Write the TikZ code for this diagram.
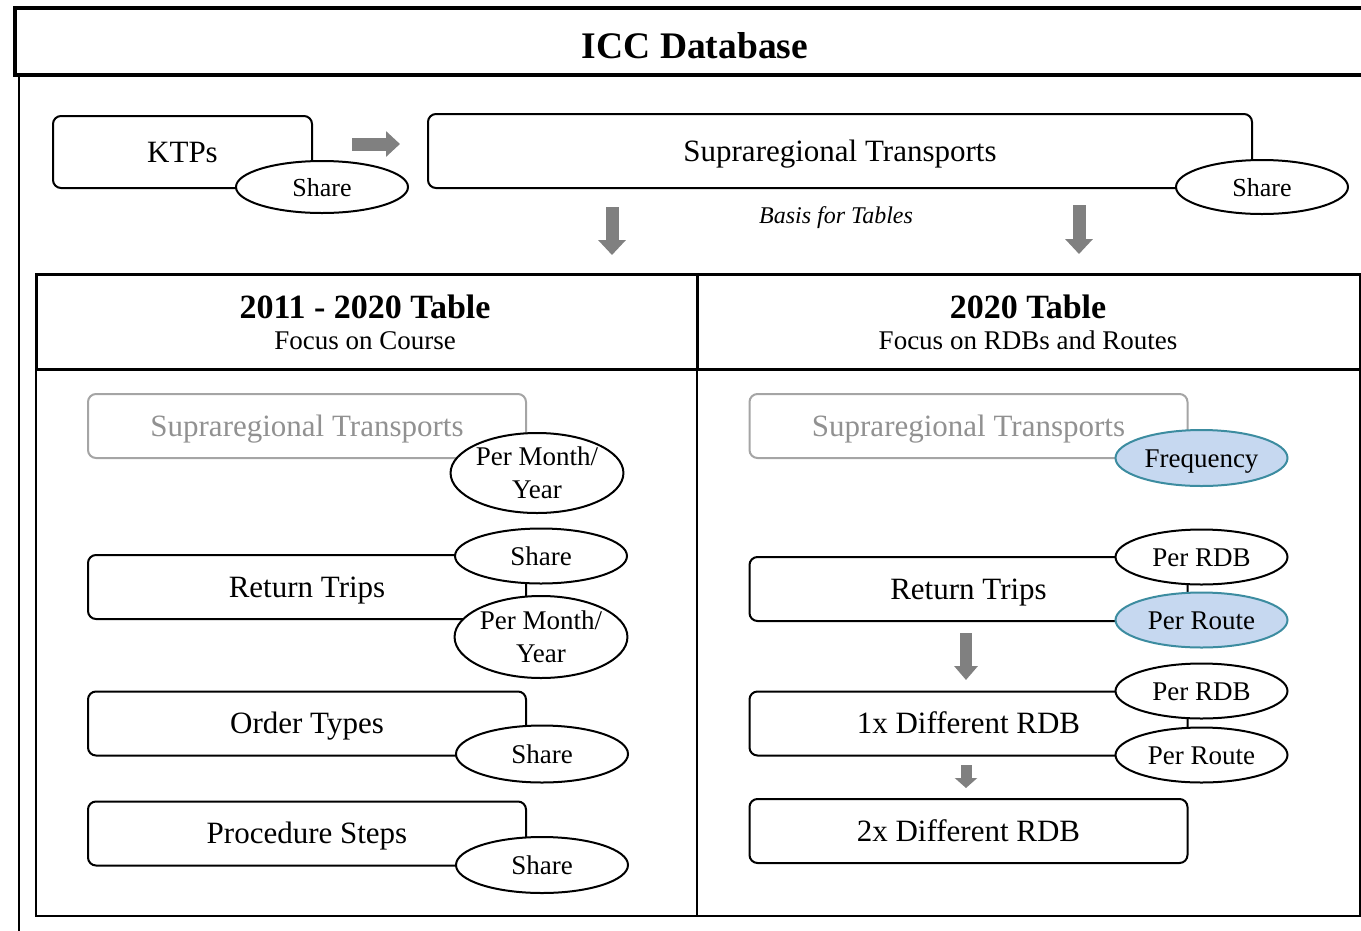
\documentclass[tikz,border=0pt]{standalone}
\usepackage{fontspec}
\setmainfont{Liberation Serif}
\usetikzlibrary{shapes.geometric,arrows.meta}
\definecolor{arrgray}{RGB}{128,128,128}
\definecolor{boxgray}{RGB}{165,165,165}
\definecolor{txtgray}{RGB}{145,145,145}
\definecolor{hlfill}{RGB}{198,216,240}
\definecolor{hldraw}{RGB}{60,140,160}
\begin{document}
\begin{tikzpicture}[x=1pt,y=-1pt,
  capc/.style={text height=#1, text depth=0pt, inner sep=0pt},
  thinframe/.style={draw, line width=1.5pt, inner sep=0pt},
  bigbox/.style={draw, line width=4pt, inner sep=0pt},
  hdr/.style={draw, line width=3pt, inner sep=0pt},
  ibox/.style={draw, line width=2pt, rounded corners=8pt, inner sep=0pt,
    minimum width=438pt, minimum height=64pt,
    font=\fontsize{31}{34}\selectfont, text height=20.5pt, text depth=0pt},
  gbox/.style={ibox, draw=boxgray, text=txtgray},
  ell/.style={ellipse, draw, line width=2pt, fill=white, inner sep=0pt,
    minimum width=172pt, minimum height=55pt,
    font=\fontsize{27}{33}\selectfont, text height=18pt, text depth=0pt},
  ellb/.style={ellipse, draw, line width=2pt, fill=white, inner sep=0pt,
    minimum width=172pt, minimum height=82pt,
    font=\fontsize{27}{33}\selectfont, align=center},
  hl/.style={fill=hlfill, draw=hldraw},
  garrow/.style={draw=arrgray, line width=13pt, -{Triangle[length=15pt,width=27pt]}},
]
\useasboundingbox (0,0) rectangle (1361,930);

% outer frame and title
\node[thinframe, minimum width=1357pt, minimum height=860pt, anchor=north west] (outer) at (18,75) {};
\node[bigbox, fill=white, minimum width=1360pt, minimum height=67pt] (titlebox) at (695,41.5) {};
\node[capc=24.8pt, font={\fontsize{37.5}{40}\selectfont\bfseries}] (title) at (695,46.5) {ICC Database};

% top row
\node[ibox, minimum width=259pt, minimum height=72pt] (ktp) at (182.5,152) {KTPs};
\node[ibox, minimum width=824pt, minimum height=74pt] (st) at (840,151) {Supraregional Transports};
\node[ell, minimum height=52pt, font=\fontsize{26}{30}\selectfont] (ktpshare) at (322,187) {Share};
\node[ell, minimum height=54pt, font=\fontsize{26}{30}\selectfont] (stshare) at (1262,187) {Share};
\node[capc=16pt, font={\fontsize{24}{28}\selectfont\itshape}] (basis) at (836,215) {Basis for Tables};

\coordinate (a1s) at (352,144); \coordinate (a1e) at (400,144);
\draw[garrow, -{Triangle[length=14pt,width=25pt]}] (a1s) -- (a1e);
\coordinate (a2s) at (612,207); \coordinate (a2e) at (612,255);
\draw[garrow] (a2s) -- (a2e);
\coordinate (a3s) at (1079,205); \coordinate (a3e) at (1079,254);
\draw[garrow] (a3s) -- (a3e);

% panels
\node[thinframe, minimum width=661pt, minimum height=546pt, anchor=north west] (lbody) at (35,369) {};
\node[thinframe, minimum width=663pt, minimum height=546pt, anchor=north west] (rbody) at (696,369) {};
\node[hdr, fill=white, minimum width=661pt, minimum height=95pt, anchor=north west] (lhdr) at (35,273) {};
\node[hdr, fill=white, minimum width=663pt, minimum height=95pt, anchor=north west] (rhdr) at (696,273) {};
\node[capc=22.5pt, font={\fontsize{34}{36}\selectfont\bfseries}] (lh1) at (365,307) {2011 - 2020 Table};
\node[capc=17.9pt, font=\fontsize{27}{30}\selectfont] (lh2) at (365,341) {Focus on Course};
\node[capc=22.5pt, font={\fontsize{34}{36}\selectfont\bfseries}] (rh1) at (1028,307) {2020 Table};
\node[capc=17.9pt, font=\fontsize{27}{30}\selectfont] (rh2) at (1028,341) {Focus on RDBs and Routes};

% left panel
\node[gbox] (lst) at (307,426) {Supraregional Transports};
\node[ellb, minimum height=80pt] (lpmy1) at (537,473) {Per Month/\\Year};
\node[ibox] (lrt) at (307,587) {Return Trips};
\node[ell] (lrtshare) at (541,556) {Share};
\node[ellb] (lpmy2) at (541,637) {Per Month/\\Year};
\node[ibox] (lot) at (307,723.5) {Order Types};
\node[ell, minimum height=57pt] (lotshare) at (542,754) {Share};
\node[ibox] (lps) at (307,833.5) {Procedure Steps};
\node[ell, minimum height=56pt] (lpsshare) at (542,865) {Share};

% right panel
\node[gbox] (rst) at (968.5,426) {Supraregional Transports};
\node[ell, hl, minimum height=56pt] (freq) at (1201.5,458) {Frequency};
\node[ibox] (rrt) at (968.5,589) {Return Trips};
\node[ell] (rrtrdb) at (1201.5,557) {Per RDB};
\node[ell, hl] (rrtroute) at (1201.5,620) {Per Route};
\node[ibox] (r1x) at (968.5,723.5) {1x Different RDB};
\node[ell] (r1xrdb) at (1201.5,691) {Per RDB};
\node[ell] (r1xroute) at (1201.5,755) {Per Route};
\node[ibox] (r2x) at (968.5,831) {2x Different RDB};

\coordinate (a4s) at (966,633); \coordinate (a4e) at (966,680);
\draw[garrow, line width=12pt, -{Triangle[length=14pt,width=23pt]}] (a4s) -- (a4e);
\coordinate (a5s) at (966,765); \coordinate (a5e) at (966,788);
\draw[garrow, line width=11pt, -{Triangle[length=10pt,width=22pt]}] (a5s) -- (a5e);
\end{tikzpicture}
\end{document}
